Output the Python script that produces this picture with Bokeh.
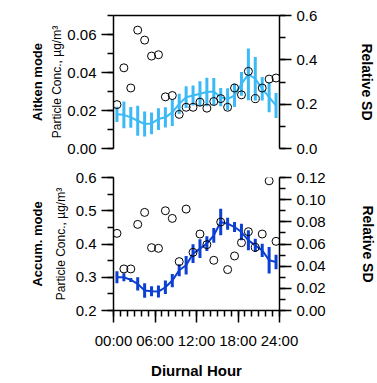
from bokeh.plotting import figure
from bokeh.models import LinearAxis, Range1d, Title, FixedTicker, NumeralTickFormatter
from bokeh.layouts import column
from bokeh.embed import file_html
from bokeh.resources import INLINE

hours = [0.5, 1.5, 2.5, 3.5, 4.5, 5.5, 6.5, 7.5, 8.5, 9.5, 10.5, 11.5,
         12.5, 13.5, 14.5, 15.5, 16.5, 17.5, 18.5, 19.5, 20.5, 21.5, 22.5, 23.5]

# Aitken mode
aitken_mean = [0.0180, 0.0177, 0.0164, 0.0146, 0.0129, 0.0132, 0.0155, 0.0164, 0.0190, 0.0235, 0.0270, 0.0279,
               0.0288, 0.0297, 0.0300, 0.0270, 0.0260, 0.0280, 0.0340, 0.0390, 0.0367, 0.0314, 0.0270, 0.0226]
aitken_err = [0.0040, 0.0071, 0.0055, 0.0079, 0.0066, 0.0057, 0.0057, 0.0053, 0.0071, 0.0053, 0.0057, 0.0053,
              0.0066, 0.0075, 0.0071, 0.0048, 0.0057, 0.0062, 0.0062, 0.0136, 0.0115, 0.0062, 0.0079, 0.0066]
aitken_rsd = [0.198, 0.364, 0.273, 0.534, 0.489, 0.417, 0.423, 0.233, 0.239, 0.154, 0.186, 0.186,
              0.209, 0.182, 0.212, 0.225, 0.186, 0.273, 0.242, 0.348, 0.225, 0.273, 0.313, 0.318]

# Accumulation mode
accum_mean = [0.300, 0.300, 0.292, 0.280, 0.260, 0.258, 0.257, 0.270, 0.290, 0.321, 0.336, 0.371,
              0.386, 0.401, 0.426, 0.466, 0.461, 0.451, 0.436, 0.411, 0.396, 0.381, 0.351, 0.346]
accum_err = [0.018, 0.012, 0.006, 0.020, 0.022, 0.015, 0.018, 0.020, 0.020, 0.018, 0.028, 0.028,
             0.028, 0.022, 0.022, 0.040, 0.018, 0.015, 0.025, 0.030, 0.020, 0.020, 0.040, 0.022]
accum_rsd = [0.0696, 0.0375, 0.0375, 0.0777, 0.0885, 0.0567, 0.0561, 0.0900, 0.0831, 0.0441, 0.0915, 0.0525,
             0.0690, 0.0594, 0.0453, 0.0798, 0.0369, 0.0492, 0.0612, 0.0711, 0.0570, 0.0690, 0.1170, 0.0624]

x_ticks = [0, 6, 12, 18, 24]
x_tick_labels = ["00:00", "06:00", "12:00", "18:00", "24:00"]
x_minor = list(range(0, 25))

FONT = "Liberation Sans"
LIGHT = "#3cbaf6"
DARK = "#0c3fd2"


def style_axis(ax, fs="15px"):
    ax.axis_line_width = 1.5
    ax.axis_line_color = "black"
    ax.major_tick_line_width = 1.5
    ax.minor_tick_line_width = 1.5
    ax.major_tick_line_color = "black"
    ax.minor_tick_line_color = "black"
    ax.major_tick_out = 12
    ax.major_tick_in = 0
    ax.minor_tick_out = 6
    ax.minor_tick_in = 0
    ax.major_label_text_font = FONT
    ax.major_label_text_font_size = fs
    ax.major_label_text_color = "black"
    ax.major_label_standoff = 5
    ax.axis_label_text_font = FONT
    ax.axis_label_text_color = "black"


def make_panel(mean, err, rsd, yr, sd_range, color, left_ticks, left_minor, left_fmt,
               right_ticks, right_minor, right_fmt, mode_name, bottom, top_border,
               lab_standoff, rsd_standoff):
    p = figure(frame_width=166, frame_height=133,
               x_range=Range1d(0, 24), y_range=Range1d(*yr),
               output_backend="svg", toolbar_location=None,
               x_axis_location="below" if bottom else None,
               min_border_left=113, min_border_right=95,
               min_border_top=top_border, min_border_bottom=70 if bottom else 15)
    p.extra_y_ranges = {"sd": Range1d(*sd_range)}
    p.outline_line_color = None
    p.grid.visible = False
    p.background_fill_color = "white"
    p.border_fill_color = "white"

    lower = [m - e for m, e in zip(mean, err)]
    upper = [m + e for m, e in zip(mean, err)]
    p.line(hours, mean, line_color=color, line_width=2)
    p.segment(x0=hours, y0=lower, x1=hours, y1=upper, line_color=color, line_width=3)
    p.scatter(hours, rsd, y_range_name="sd", marker="circle", size=8,
              fill_color=None, line_color="black", line_width=1)

    ya = p.yaxis[0]
    style_axis(ya)
    ya.ticker = FixedTicker(ticks=left_ticks, minor_ticks=left_minor)
    ya.formatter = NumeralTickFormatter(format=left_fmt)
    p.add_layout(Title(text="Particle Conc., \u00b5g/m\u00b3", text_font=FONT,
                       text_font_size="12px", text_font_style="normal",
                       text_color="black", align="center", offset=27,
                       standoff=lab_standoff), "left")
    p.add_layout(Title(text=mode_name, text_font=FONT, text_font_size="13px",
                       text_font_style="bold", text_color="black", align="center",
                       offset=27, standoff=3), "left")

    ra = LinearAxis(y_range_name="sd")
    style_axis(ra)
    ra.ticker = FixedTicker(ticks=right_ticks, minor_ticks=right_minor)
    ra.formatter = NumeralTickFormatter(format=right_fmt)
    ra.axis_label = "Relative SD"
    ra.axis_label_text_font_size = "14px"
    ra.axis_label_text_font_style = "bold"
    ra.axis_label_standoff = rsd_standoff
    p.add_layout(ra, "right")

    if bottom:
        xa = p.xaxis[0]
        style_axis(xa)
        xa.ticker = FixedTicker(ticks=x_ticks, minor_ticks=x_minor)
        xa.major_label_overrides = {t: l for t, l in zip(x_ticks, x_tick_labels)}
        xa.major_label_standoff = 9
        xa.axis_label = "Diurnal Hour"
        xa.axis_label_text_font_size = "15px"
        xa.axis_label_text_font_style = "bold"
        xa.axis_label_standoff = 10
    else:
        ta = LinearAxis(ticker=FixedTicker(ticks=[]), major_tick_line_color=None,
                        minor_tick_line_color=None, major_label_standoff=0,
                        axis_line_width=1.5, axis_line_color="black")
        p.add_layout(ta, "above")
    return p


p1 = make_panel(aitken_mean, aitken_err, aitken_rsd, (0, 0.07), (0, 0.6), LIGHT,
                [0, 0.02, 0.04, 0.06], [0, 0.01, 0.02, 0.03, 0.04, 0.05, 0.06, 0.07], "0.00",
                [0, 0.2, 0.4, 0.6], [0, 0.1, 0.2, 0.3, 0.4, 0.5, 0.6], "0.0",
                "Aitken mode", False, 15, 2, 39)
p2 = make_panel(accum_mean, accum_err, accum_rsd, (0.2, 0.6), (0, 0.12), DARK,
                [0.2, 0.3, 0.4, 0.5, 0.6], [0.2, 0.25, 0.3, 0.35, 0.4, 0.45, 0.5, 0.55, 0.6], "0.0",
                [0, 0.02, 0.04, 0.06, 0.08, 0.10, 0.12],
                [0, 0.01, 0.02, 0.03, 0.04, 0.05, 0.06, 0.07, 0.08, 0.09, 0.10, 0.11, 0.12], "0.00",
                "Accum. mode", True, 14, 10, 31)

layout = column(p1, p2, spacing=0)
open("out.html", "w").write(file_html(layout, INLINE))
